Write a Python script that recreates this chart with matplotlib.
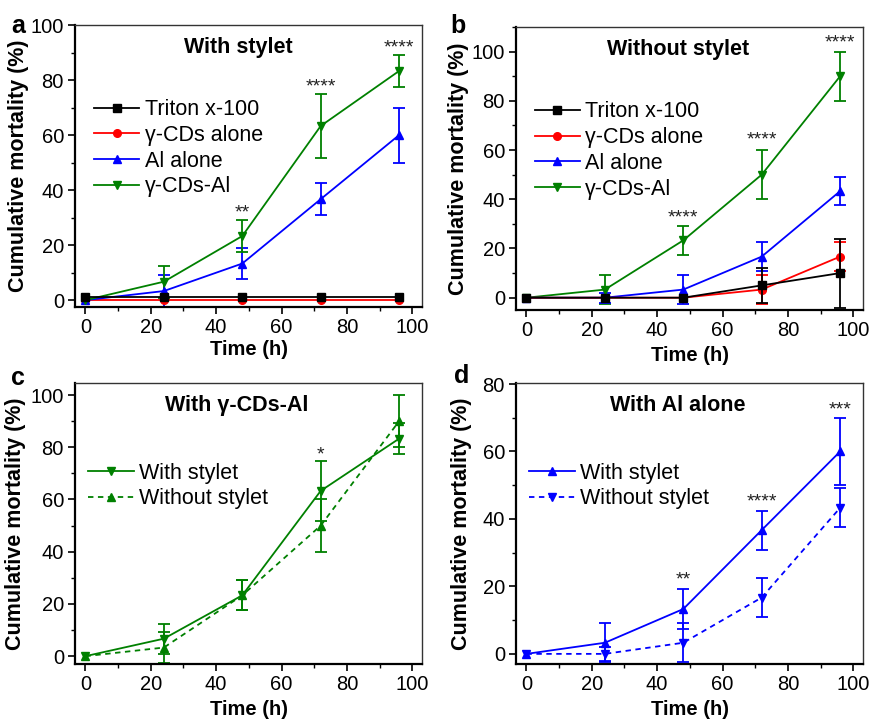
import numpy as np
import matplotlib
matplotlib.use('Agg')
import matplotlib.pyplot as plt
from matplotlib.ticker import MultipleLocator

plt.rcParams['font.family'] = ['Liberation Sans', 'DejaVu Sans']

# ---- data ----
time = [0, 24, 48, 72, 96]
nan = np.nan

# with stylet
ws_triton = [1, 1, 1, 1, 1]
ws_triton_err = [nan, nan, nan, nan, nan]
ws_cds = [0, 0, 0, 0, 0]
ws_cds_err = [nan, nan, nan, nan, nan]
ws_al = [0, 3.3, 13.3, 36.7, 60]
ws_al_err = [nan, 5.8, 5.8, 5.8, 10]
ws_cdsal = [0, 6.7, 23.3, 63.3, 83.3]
ws_cdsal_err = [nan, 5.8, 5.8, 11.5, 5.8]

# without stylet
wo_triton = [0, 0, 0, 5, 10]
wo_triton_err = [nan, nan, nan, 7, 14]
wo_cds = [0, 0, 0, 3.3, 16.7]
wo_cds_err = [nan, nan, nan, 6, 5.8]
wo_al = [0, 0, 3.3, 16.7, 43.3]
wo_al_err = [nan, 2, 5.8, 5.8, 5.8]
wo_cdsal = [0, 3.3, 23.3, 50, 90]
wo_cdsal_err = [nan, 5.8, 5.8, 10, 10]

# significance marks: (x, y, text)
stars_a = [(48, 31.6, '**'), (72, 77.3, '****'), (96, 91.5, '****')]
stars_b = [(48, 32.5, '****'), (72, 64.2, '****'), (96, 103.7, '****')]
stars_c = [(72, 77, '*')]
stars_d = [(48, 21.9, '**'), (72, 45, '****'), (96, 72.3, '***')]

W, H = 871, 720
fig = plt.figure(figsize=(W / 100, H / 100), dpi=100)


def px_rect(l, t, r, b):
    return [l / W, 1 - b / H, (r - l) / W, (b - t) / H]


ax_a = fig.add_axes(px_rect(75, 25, 422, 307))
ax_b = fig.add_axes(px_rect(516, 27, 863, 310))
ax_c = fig.add_axes(px_rect(75, 383, 422, 664))
ax_d = fig.add_axes(px_rect(516, 383, 863, 664))

TICK_FS = 14.5
XLAB_FS = 14.5
YLAB_FS = 15.5
LEG_FS = 15.5
TITLE_FS = 15.5


def series(ax, y, err, color, marker, label, ls='-', z=2):
    c = ax.errorbar(time, y, yerr=err, color=color, marker=marker, ms=5.5,
                    lw=1.3, ls=ls, elinewidth=1.3, capsize=4, capthick=1.3,
                    zorder=z)
    c[0].set_label(label)
    return c[0]


def style(ax, ylim, title, title_x, stars, xlab_y, ylab_x):
    ax.set_xlim(-3.2, 103)
    ax.set_ylim(*ylim)
    ax.xaxis.set_major_locator(MultipleLocator(20))
    ax.xaxis.set_minor_locator(MultipleLocator(10))
    ax.yaxis.set_major_locator(MultipleLocator(20))
    ax.yaxis.set_minor_locator(MultipleLocator(10))
    ax.tick_params(which='major', direction='out', length=5, width=1.2,
                   labelsize=TICK_FS, pad=3)
    ax.tick_params(which='minor', direction='out', length=3, width=1.0)
    for s in ['left', 'bottom']:
        ax.spines[s].set_linewidth(1.6)
    for s in ['top', 'right']:
        ax.spines[s].set_linewidth(1.0)
        ax.spines[s].set_color('#333333')
    ax.set_xlabel('Time (h)', fontsize=XLAB_FS, fontweight='bold')
    ax.set_ylabel('Cumulative mortality (%)', fontsize=YLAB_FS, fontweight='bold')
    ax.xaxis.set_label_coords(0.5, xlab_y)
    ax.yaxis.set_label_coords(ylab_x, 0.5)
    ax.text(title_x, 0.92, title, transform=ax.transAxes, ha='center',
            va='center', fontsize=TITLE_FS, fontweight='bold')
    for x, y, t in stars:
        ax.text(x, y, t, ha='center', va='center', fontsize=14, color='#222222')


# panel a
la = [series(ax_a, ws_triton, ws_triton_err, 'black', 's', 'Triton x-100', z=3),
      series(ax_a, ws_cds, ws_cds_err, '#ff0000', 'o', '\u03b3-CDs alone'),
      series(ax_a, ws_al, ws_al_err, '#0000ff', '^', 'Al alone'),
      series(ax_a, ws_cdsal, ws_cdsal_err, '#008000', 'v', '\u03b3-CDs-Al')]
style(ax_a, (-2.5, 100), 'With stylet', 0.47, stars_a, -0.117, -0.132)

# panel b
lb = [series(ax_b, wo_cdsal, wo_cdsal_err, '#008000', 'v', '\u03b3-CDs-Al'),
      series(ax_b, wo_al, wo_al_err, '#0000ff', '^', 'Al alone'),
      series(ax_b, wo_cds, wo_cds_err, '#ff0000', 'o', '\u03b3-CDs alone'),
      series(ax_b, wo_triton, wo_triton_err, 'black', 's', 'Triton x-100', z=3)]
lb = lb[::-1]
style(ax_b, (-5, 110), 'Without stylet', 0.467, stars_b, -0.127, -0.135)

# panel c
lc = [series(ax_c, ws_cdsal, ws_cdsal_err, '#008000', 'v', 'With stylet'),
      series(ax_c, wo_cdsal, wo_cdsal_err, '#008000', '^', 'Without stylet',
             ls=(0, (3, 2.5)))]
style(ax_c, (-3, 104.6), 'With \u03b3-CDs-Al', 0.465, stars_c, -0.128, -0.14)

# panel d
ld = [series(ax_d, ws_al, ws_al_err, '#0000ff', '^', 'With stylet'),
      series(ax_d, wo_al, wo_al_err, '#0000ff', 'v', 'Without stylet',
             ls=(0, (3, 2.5)))]
style(ax_d, (-3, 80.3), 'With Al alone', 0.467, stars_d, -0.128, -0.126)

leg_kw = dict(frameon=False, fontsize=LEG_FS, handlelength=2.1,
              handletextpad=0.25, labelspacing=0.22, borderpad=0.2,
              loc='upper left')

ax_a.legend(handles=la, bbox_to_anchor=(0.012, 0.79), **leg_kw)
ax_b.legend(handles=lb, bbox_to_anchor=(0.01, 0.79), **leg_kw)
ax_c.legend(handles=lc, bbox_to_anchor=(-0.005, 0.77), **leg_kw)
ax_d.legend(handles=ld, bbox_to_anchor=(-0.005, 0.77), **leg_kw)

# panel letters
for letter, x, y in [('a', 18, 26), ('b', 458, 26), ('c', 18, 378), ('d', 462, 376)]:
    fig.text(x / W, 1 - y / H, letter, fontsize=18, fontweight='bold',
             ha='center', va='center')

fig.savefig('out.png', dpi=100)
